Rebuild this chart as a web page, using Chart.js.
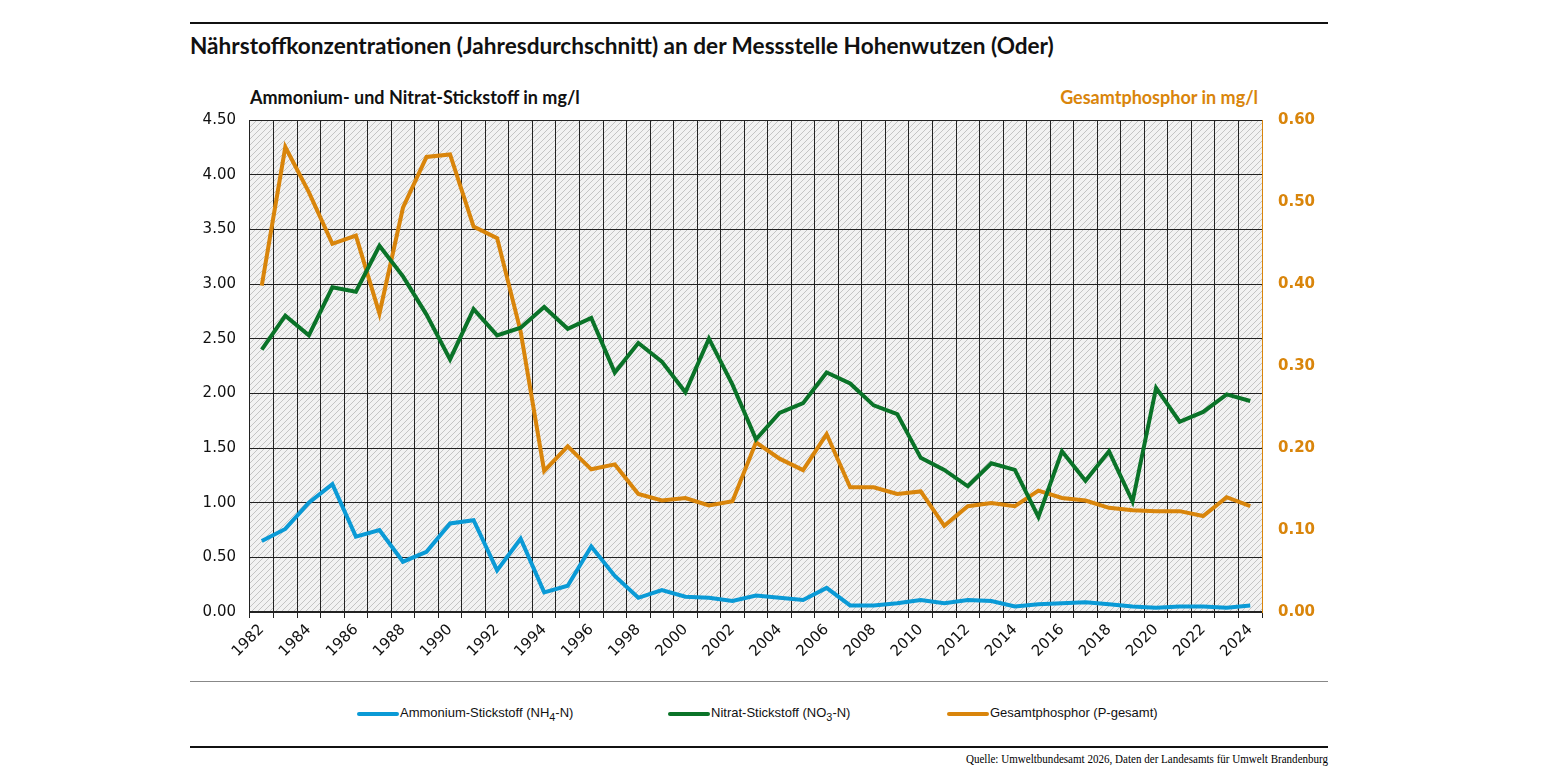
<!DOCTYPE html>
<html><head><meta charset="utf-8">
<script src="https://cdn.jsdelivr.net/npm/chart.js@4"></script>
<style>
body{margin:0;background:#fff;font-family:Lato,sans-serif;width:1545px;height:775px;position:relative;overflow:hidden}
.rule{position:absolute;left:190px;width:1138px}
#title{position:absolute;left:190px;top:32px;font-weight:bold;font-size:22.6px;color:#111}
.at{position:absolute;top:86px;font-weight:bold;font-size:18px}
#leg{position:absolute;top:705px;font-family:"Liberation Sans Narrow",sans-serif;font-size:13px;color:#111}
#leg span{position:absolute;white-space:nowrap}
#leg i{display:inline-block;width:42px;height:4px;border-radius:2px;vertical-align:middle;margin-right:1px}
#src{position:absolute;right:217px;top:751px;font-family:"Liberation Serif",serif;font-size:13px;transform:scaleX(0.85);transform-origin:right;white-space:nowrap}
canvas{position:absolute;left:190px;top:97px}
</style></head><body>
<div class="rule" style="top:22px;border-top:2px solid #111"></div>
<div id="title">Nährstoffkonzentrationen (Jahresdurchschnitt) an der Messstelle Hohenwutzen (Oder)</div>
<div class="at" style="left:250px;color:#111">Ammonium- und Nitrat-Stickstoff in mg/l</div>
<div class="at" style="right:287px;color:#d9850b">Gesamtphosphor in mg/l</div>
<canvas id="c" width="1140" height="580"></canvas>
<div class="rule" style="top:681px;border-top:1px solid #888"></div>
<div id="leg">
<span style="left:357px"><i style="background:#0a9ad6"></i>Ammonium-Stickstoff (NH<sub>4</sub>-N)</span>
<span style="left:668px"><i style="background:#0a7328"></i>Nitrat-Stickstoff (NO<sub>3</sub>-N)</span>
<span style="left:947px"><i style="background:#d9850b"></i>Gesamtphosphor (P-gesamt)</span>
</div>
<div class="rule" style="top:746px;border-top:2px solid #111"></div>
<div id="src">Quelle: Umweltbundesamt 2026, Daten der Landesamts für Umwelt Brandenburg</div>
<script>
var years = [];
for (var y = 1982; y <= 2024; y++) years.push(String(y));

var ammonium = [0.65,0.76,1.00,1.17,0.69,0.75,0.46,0.55,0.81,0.84,0.38,0.67,0.18,0.24,0.60,0.33,0.13,0.20,0.14,0.13,0.10,0.15,0.13,0.11,0.22,0.06,0.06,0.08,0.11,0.08,0.11,0.10,0.05,0.07,0.08,0.09,0.07,0.05,0.04,0.05,0.05,0.04,0.06];
var nitrat = [2.40,2.71,2.53,2.97,2.93,3.35,3.07,2.72,2.31,2.77,2.53,2.60,2.79,2.59,2.69,2.19,2.46,2.29,2.01,2.50,2.08,1.58,1.82,1.91,2.19,2.09,1.89,1.81,1.41,1.30,1.15,1.36,1.30,0.87,1.47,1.20,1.47,1.01,2.05,1.74,1.83,1.99,1.93];
var phosphor = [0.398,0.567,0.512,0.449,0.459,0.364,0.493,0.555,0.558,0.470,0.456,0.342,0.172,0.202,0.174,0.180,0.144,0.136,0.139,0.130,0.135,0.207,0.187,0.173,0.217,0.152,0.152,0.144,0.147,0.105,0.129,0.133,0.129,0.148,0.139,0.136,0.127,0.124,0.123,0.123,0.117,0.140,0.129];

// hatch pattern for plot background
var pc = document.createElement('canvas');
pc.width = 6; pc.height = 6;
var p = pc.getContext('2d');
p.fillStyle = '#f2f2f2'; p.fillRect(0,0,6,6);
p.strokeStyle = '#c4c4c4'; p.lineWidth = 1;
p.beginPath(); p.moveTo(0,6); p.lineTo(6,0); p.moveTo(-1,1); p.lineTo(1,-1); p.moveTo(5,7); p.lineTo(7,5); p.stroke();

var bg = {
  id: 'bg',
  beforeDraw: function(chart) {
    var a = chart.chartArea, c = chart.ctx;
    c.save();
    c.fillStyle = c.createPattern(pc, 'repeat');
    c.fillRect(a.left, a.top, a.right - a.left, a.bottom - a.top);
    c.restore();
  }
};

var tickFont = {family: 'DejaVu Sans', size: 15};

new Chart(document.getElementById('c'), {
  type: 'line',
  data: {
    labels: years,
    datasets: [
      {label: 'Ammonium', data: ammonium, borderColor: '#0a9ad6', yAxisID: 'y'},
      {label: 'Nitrat', data: nitrat, borderColor: '#0a7328', yAxisID: 'y'},
      {label: 'Phosphor', data: phosphor, borderColor: '#d9850b', yAxisID: 'y2'}
    ]
  },
  options: {
    responsive: false,
    animation: false,
    layout: {padding: {top: 15}},
    elements: {line: {borderWidth: 4, tension: 0}, point: {radius: 0}},
    plugins: {legend: {display: false}, tooltip: {enabled: false}},
    scales: {
      x: {
        offset: true,
        afterFit: function(s) { s.height = 65; },
        grid: {offset: true, color: '#222', lineWidth: 1, tickLength: 6},
        border: {color: '#222', width: 2},
        ticks: {
          autoSkip: false, maxRotation: 45, minRotation: 45, color: '#111', font: tickFont,
          callback: function(v, i) { return i % 2 === 0 ? years[i] : ''; }
        }
      },
      y: {
        min: 0, max: 4.5,
        afterFit: function(s) { s.width = 60; },
        grid: {color: '#222', tickLength: 0},
        border: {display: false},
        ticks: {stepSize: 0.5, color: '#111', font: tickFont, padding: 14,
          callback: function(v) { return v.toFixed(2); }}
      },
      y2: {
        position: 'right', min: 0, max: 0.6,
        afterFit: function(s) { s.width = 68; },
        grid: {display: false},
        border: {color: '#d9850b', width: 1},
        ticks: {stepSize: 0.1, color: '#d9850b', font: {family: 'DejaVu Sans', size: 15, weight: 'bold'}, padding: 8,
          callback: function(v) { return v.toFixed(2); }}
      }
    }
  },
  plugins: [bg]
});
</script>
</body></html>
